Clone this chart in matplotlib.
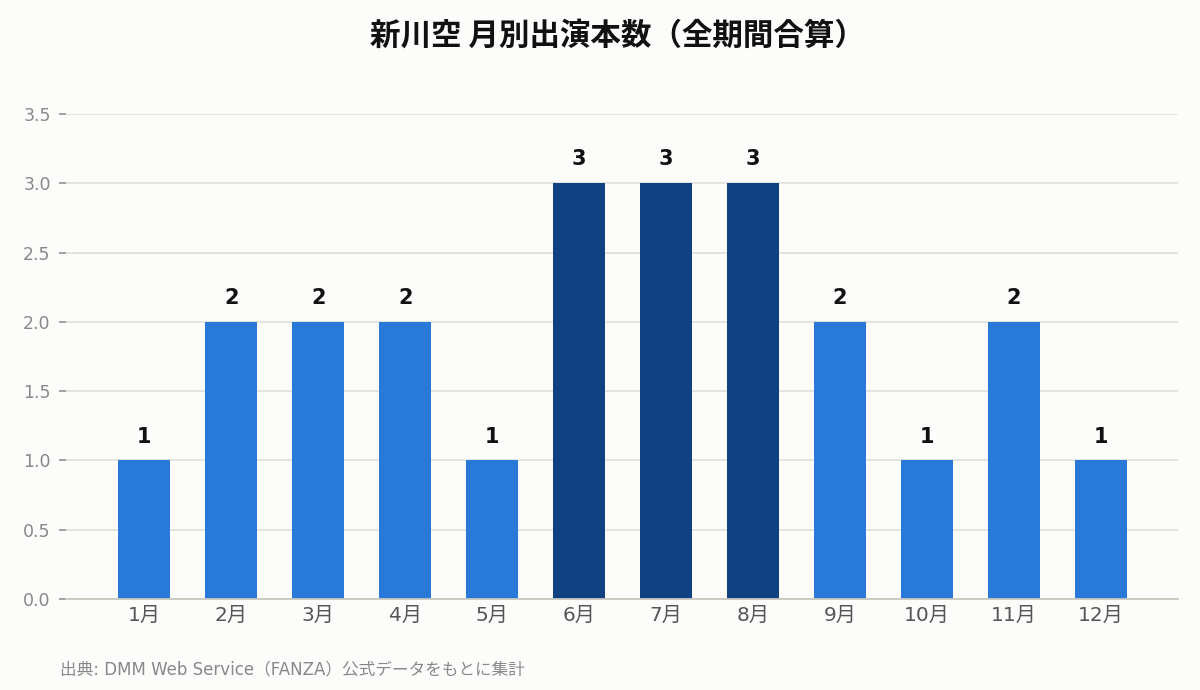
import matplotlib
matplotlib.use("Agg")
import matplotlib.pyplot as plt

months = ["1月", "2月", "3月", "4月", "5月", "6月", "7月", "8月", "9月", "10月", "11月", "12月"]
counts = [1, 2, 2, 2, 1, 3, 3, 3, 2, 1, 2, 1]
yticks = [0.0, 0.5, 1.0, 1.5, 2.0, 2.5, 3.0, 3.5]
title = "新川空 月別出演本数（全期間合算）"
source = "出典: DMM Web Service（FANZA）公式データをもとに集計"

plt.rcParams['font.family'] = ['DejaVu Sans', 'Noto Sans CJK JP']

bg = "#fcfcfb"
light = "#2979d8"
dark = "#104283"
maxv = max(counts)
colors = [dark if v == maxv else light for v in counts]

fig = plt.figure(figsize=(12, 6.9), dpi=100, facecolor=bg)
ax = fig.add_axes([66/1200, 1-599/690, (1178-66)/1200, (599-114)/690])
ax.set_facecolor(bg)

x = list(range(len(months)))
ax.bar(x, counts, width=0.6, color=colors, zorder=3)
for xi, v in zip(x, counts):
    ax.annotate(str(v), (xi, v), xytext=(0, 10), textcoords="offset points",
                ha="center", va="bottom", fontsize=15, fontweight="bold",
                color="#111111", zorder=4)

ax.set_xlim(-0.9, 11.885)
ax.set_ylim(0, 3.5)
ax.set_yticks(yticks)
ax.set_yticklabels([f"{t:.1f}" for t in yticks])
ax.set_xticks(x)
ax.set_xticklabels(months, family=['DejaVu Sans', 'Noto Sans CJK JP'])
ax.grid(axis="y", color="#e2e2dc", linewidth=1.3, zorder=0)
ax.set_axisbelow(True)
for s in ["top", "right", "left"]:
    ax.spines[s].set_visible(False)
ax.spines["bottom"].set_color("#c8c8c0")
ax.spines["bottom"].set_linewidth(1.3)
ax.spines["bottom"].set_zorder(5)
ax.tick_params(axis="y", length=5, width=1.3, color="#999999", labelcolor="#888888",
               labelsize=12.5, pad=6)
ax.tick_params(axis="x", length=0, labelcolor="#555555", labelsize=14.5, pad=5)

fig.text(617/1200, 1-36/690, title, ha="center", va="center", fontsize=22,
         fontweight="bold", color="#111111", family=['Noto Sans CJK JP', 'DejaVu Sans'])
fig.text(60/1200, 1-669/690, source, ha="left", va="center", fontsize=12,
         color="#888888", family=['DejaVu Sans', 'Noto Sans CJK JP'])

fig.savefig("out.png", dpi=100, facecolor=bg)
